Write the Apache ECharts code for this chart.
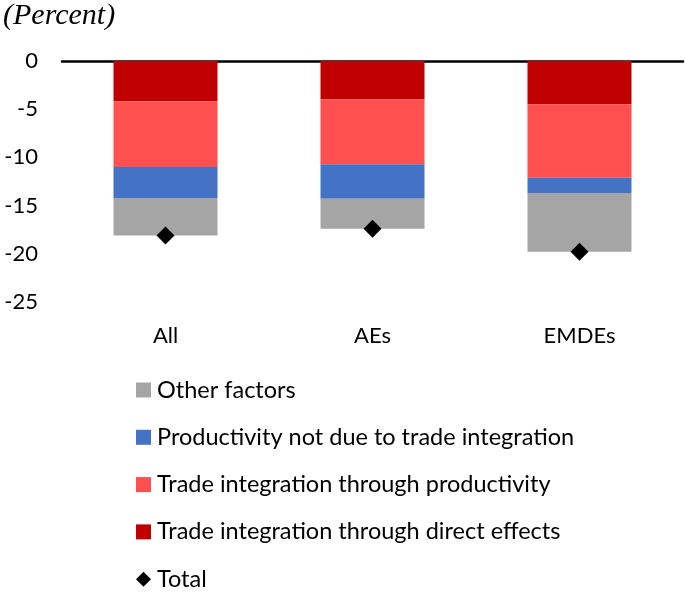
<!DOCTYPE html>
<html>
<head>
<meta charset="utf-8">
<script src="https://cdn.jsdelivr.net/npm/echarts@6/dist/echarts.min.js"></script>
<style>
  html, body { margin: 0; padding: 0; background: #fff; }
  #chart { width: 685px; height: 596px; }
</style>
</head>
<body>
<div id="chart"></div>
<script>
// categories and series values (percent)
var categories = ['All', 'AEs', 'EMDEs'];
var directEffects = [-4.2, -4.0, -4.5];
var tradeProductivity = [-6.8, -6.7, -7.6];
var productivityNotTrade = [-3.2, -3.6, -1.6];
var otherFactors = [-3.9, -3.1, -6.1];
var total = [-18.1, -17.4, -19.8];
var yTicks = [0, -5, -10, -15, -20, -25];

var font = 'Lato';

var myChart = echarts.init(document.getElementById('chart'));

function barSeries(name, data, color) {
    return {
        name: name,
        type: 'bar',
        stack: 'total',
        data: data,
        barWidth: 104,
        itemStyle: { color: color },
        emphasis: { disabled: true }
    };
}

var option = {
    animation: false,
    title: {
        text: '(Percent)',
        left: 3,
        top: 1,
        padding: 0,
        textStyle: {
            fontFamily: 'Liberation Serif',
            fontStyle: 'italic',
            fontWeight: 'normal',
            fontSize: 30,
            color: '#000'
        }
    },
    legend: {
        orient: 'vertical',
        left: 136,
        top: 378,
        height: 230,
        padding: 0,
        itemWidth: 15,
        itemHeight: 15,
        itemGap: 23.3,
        textStyle: { fontFamily: font, fontSize: 23.5, lineHeight: 22, color: '#000', padding: [0, 0, 0, 1] },
        data: [
            { name: 'Other factors', icon: 'rect' },
            { name: 'Productivity not due to trade integration', icon: 'rect' },
            { name: 'Trade integration through productivity', icon: 'rect' },
            { name: 'Trade integration through direct effects', icon: 'rect' },
            { name: 'Total', icon: 'diamond' }
        ]
    },
    grid: {
        left: 62,
        right: 2,
        top: 61,
        bottom: 294
    },
    xAxis: [
        {
            type: 'category',
            data: categories,
            position: 'top',
            axisLine: { lineStyle: { color: '#000', width: 2.5 } },
            axisTick: { inside: true, length: 7, lineStyle: { color: '#000', width: 2.5 } },
            axisLabel: { show: false }
        },
        {
            type: 'category',
            data: categories,
            position: 'bottom',
            axisLine: { show: false },
            axisTick: { show: false },
            axisLabel: { margin: 23, fontFamily: font, fontSize: 22, color: '#000' }
        }
    ],
    yAxis: {
        type: 'value',
        min: yTicks[yTicks.length - 1],
        max: yTicks[0],
        interval: 5,
        axisLine: { show: false },
        axisTick: { show: false },
        splitLine: { show: false },
        axisLabel: { margin: 24, fontFamily: font, fontSize: 22, color: '#000' }
    },
    series: [
        barSeries('Trade integration through direct effects', directEffects, '#C00000'),
        barSeries('Trade integration through productivity', tradeProductivity, '#FF5050'),
        barSeries('Productivity not due to trade integration', productivityNotTrade, '#4472C4'),
        barSeries('Other factors', otherFactors, '#A5A5A5'),
        {
            name: 'Total',
            type: 'scatter',
            data: total,
            symbol: 'diamond',
            symbolSize: 18,
            itemStyle: { color: '#000', opacity: 1 },
            z: 5,
            emphasis: { disabled: true }
        }
    ]
};

myChart.setOption(option);
</script>
</body>
</html>
